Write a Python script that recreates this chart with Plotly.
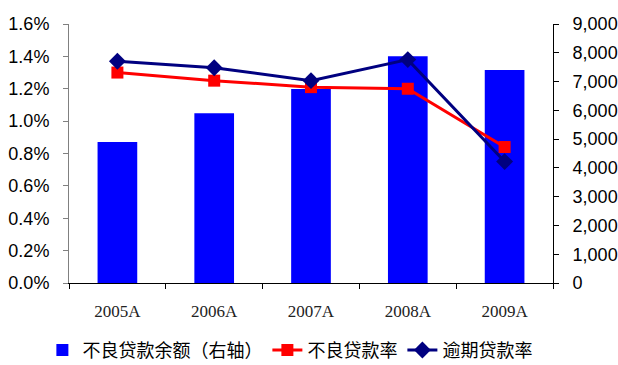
import plotly.graph_objects as go

categories = ["2005A", "2006A", "2007A", "2008A", "2009A"]
npl_balance = [4900, 5900, 6740, 7880, 7400]
npl_ratio = [0.0130, 0.0125, 0.0121, 0.0120, 0.0084]
overdue_ratio = [0.0137, 0.0133, 0.0125, 0.0138, 0.0075]

fig = go.Figure()
fig.add_trace(go.Bar(x=categories, y=npl_balance, name="不良贷款余额（右轴）",
                     marker=dict(color="#0000FF", line=dict(width=0)), yaxis="y"))
fig.add_trace(go.Scatter(x=categories, y=npl_ratio, name="不良贷款率", mode="lines+markers",
                         line=dict(color="#FF0000", width=3),
                         marker=dict(symbol="square", size=12, color="#FF0000"), yaxis="y2"))
fig.add_trace(go.Scatter(x=categories, y=overdue_ratio, name="逾期贷款率", mode="lines+markers",
                         line=dict(color="#000080", width=3),
                         marker=dict(symbol="diamond", size=13, color="#000080"), yaxis="y2"))

axis_font = dict(family="Liberation Sans, Arial", size=18, color="#000000")
fig.update_layout(
    width=618, height=365,
    margin=dict(l=69, r=65, t=24, b=82, autoexpand=False),
    plot_bgcolor="white", paper_bgcolor="white",
    bargap=0.59,
    showlegend=True,
    legend=dict(orientation="h", x=-0.055, xanchor="left", y=-0.26, yanchor="middle",
                font=dict(family="Noto Sans CJK SC", size=18, color="#000000"),
                itemwidth=30, tracegroupgap=0),
    xaxis=dict(type="category", showline=True, linecolor="#000000", linewidth=1,
               ticks="outside", tickson="boundaries", ticklen=5, tickcolor="#000000",
               tickfont=dict(family="Liberation Serif, Times New Roman", size=17, color="#222222"),
               ticklabelstandoff=13, showgrid=False),
    yaxis=dict(side="right", range=[0, 9000], dtick=1000, tickformat=",d",
               showline=True, linecolor="#000000", linewidth=1, ticks="outside", ticklen=5,
               tickcolor="#000000", tickfont=axis_font, showgrid=False, zeroline=False,
               ticklabelstandoff=10),
    yaxis2=dict(side="left", overlaying="y", range=[0, 0.016], dtick=0.002, tickformat=".1%",
                showline=True, linecolor="#808080", linewidth=1, ticks="outside", ticklen=5,
                tickcolor="#808080", tickfont=axis_font, showgrid=False, zeroline=False,
                ticklabelstandoff=10),
)

fig.write_html("out.html")
